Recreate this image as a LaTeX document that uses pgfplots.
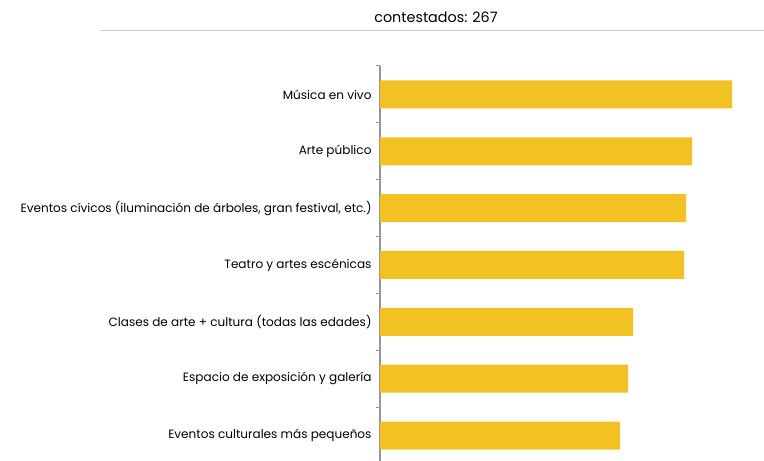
\documentclass[border=0pt]{standalone}
\usepackage{pgfplots}
\pgfplotsset{compat=1.18}
\usepackage{fontspec}
\setmainfont{Poppins}
\definecolor{baryellow}{HTML}{F2C124}
\definecolor{axgray}{RGB}{150,150,150}
\definecolor{rulegray}{RGB}{205,205,205}
\begin{document}
\begin{tikzpicture}[x=1bp,y=1bp]
\useasboundingbox (0,3) rectangle (764,464);
\draw[rulegray, line width=1bp] (100,433) -- (764,433);
\node[font=\fontsize{14.4}{16}\selectfont, text=black] at (436,447) {contestados: 267};
\begin{axis}[
  at={(380bp,0bp)}, anchor=south west,
  scale only axis, width=384bp, height=398bp,
  xmin=0, xmax=192,
  ymin=-0.5, ymax=6.5,
  axis line style={draw=none},
  hide x axis,
  separate axis lines,
  y axis line style={draw=axgray, line width=1.2bp},
  axis y line*=left,
  ytick={0,1,2,3,4,5,6},
  yticklabels={Eventos culturales más pequeños, Espacio de exposición y galería, Clases de arte + cultura (todas las edades), Teatro y artes escénicas, Eventos cívicos (iluminación de árboles{,} gran festival{,} etc.), Arte público, Música en vivo},
  major tick length=0pt,
  minor ytick={-0.5,0.5,1.5,2.5,3.5,4.5,5.5,6.5},
  minor tick length=4bp,
  tick align=outside,
  minor tick style={axgray, line width=1bp},
  yticklabel style={font=\fontsize{12.1}{14}\selectfont, text=black, xshift=-5bp},
  clip=false,
]
\addplot[xbar, bar width=28bp, fill=baryellow, draw=none, bar shift=0pt] coordinates {
(120,0) (124,1) (126.5,2) (152,3) (153,4) (156,5) (176,6)
};
\end{axis}
\end{tikzpicture}
\end{document}
